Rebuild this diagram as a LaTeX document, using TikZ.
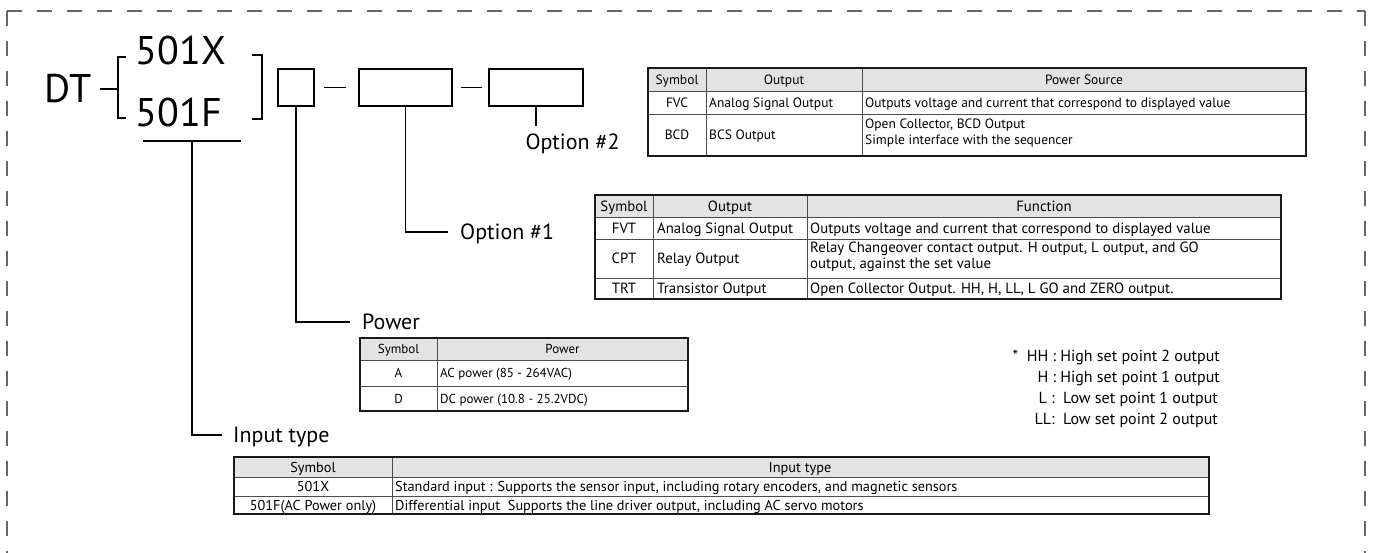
\documentclass[tikz,border=0pt]{standalone}
\usepackage{fontspec}
\setmainfont{PT Sans}
\usetikzlibrary{calc}
\usetikzlibrary{positioning}

\tikzset{
    conn/.style = {line width=1.3pt},
    codebox/.style = {draw, line width=1.3pt, minimum height=37pt, inner sep=0pt},
    bigtxt/.style = {font=\fontsize{40}{40}\selectfont, inner sep=0pt},
    labtxt/.style = {font=\fontsize{22}{22}\selectfont, inner sep=0pt, text height=15.4pt, text depth=0pt, anchor=west},
    cell/.style = {font=\fontsize{#1}{#1}\selectfont, inner sep=0pt, text height={0.7*#1pt}, text depth=0pt},
    cellw/.style = {cell=#1, anchor=west},
    twoline/.style = {inner sep=0pt, align=left, anchor=west},
    notetxt/.style = {font=\fontsize{16}{16}\selectfont, inner sep=0pt, anchor=east},
    head/.style = {fill=black!11},
    grid/.style = {line width=0.9pt, black!70},
    tabframe/.style = {line width=1.1pt, black!90},
    frame/.style = {line width=1.5pt, black!60, dash pattern=on 15pt off 15pt}
}

\begin{document}
\begin{tikzpicture}[x=1pt, y=-1pt]
    \useasboundingbox (0,0) rectangle (1381,553);
    % dashed frame round everything
    \draw[frame] (7,11) -- (1365,11);
    \draw[frame] (7,11) -- (7,580);
    \draw[frame] (1365,11) -- (1365,580);

    % model code
    \node[bigtxt] (dt) at (68,89) {DT};
    \node[bigtxt] (x501) at (181,51) {501X};
    \node[bigtxt] (f501) at (179,113) {501F};
    \coordinate (bl1) at (118,57);
    \coordinate (bl2) at (118,118);
    \coordinate (br1) at (262,55);
    \coordinate (br2) at (262,119);
    \draw[conn] ([xshift=9]dt.east) -- (dt.east -| bl1);
    \draw[conn] ([xshift=8]bl1) -- (bl1) -- (bl2) -- ([xshift=8]bl2);
    \draw[conn] ([xshift=-10]br1) -- (br1) -- (br2) -- ([xshift=-10]br2);
    \node[codebox, minimum width=36pt] (pw) at (296,87.5) {};
    \node[codebox, minimum width=93pt] (op1) at (405.5,87.5) {};
    \node[codebox, minimum width=94pt] (op2) at (536,87.5) {};
    \draw[conn] ([xshift=9]pw.east) -- ([xshift=-12]op1.west);
    \draw[conn] ([xshift=8]op1.east) -- ([xshift=-6]op2.west);
    \coordinate (ul1) at (143,141);
    \coordinate (ul2) at (241,141);
    \draw[conn] (ul1) -- (ul2);

    % labels and leaders
    \node[labtxt, anchor=center] (o2txt) at (572.5,142) {Option \#2};
    \coordinate (o2end) at (536,126);
    \draw[conn] (op2.south) -- (o2end);
    \node[labtxt] (o1txt) at (460,232) {Option \#1};
    \coordinate (o1end) at (448,232);
    \draw[conn] (op1.south) |- (o1end);
    \node[labtxt] (pwtxt) at (362,322) {Power};
    \coordinate (pwend) at (350,322);
    \draw[conn] (pw.south) |- (pwend);
    \node[labtxt] (intxt) at (233,435) {Input type};
    \coordinate (inend) at (222,435);
    \draw[conn] ($(ul1)!.5!(ul2)$) |- (inend);

    % option #2 table
    \fill[head] (648,68) rectangle (1306,91);
    \draw[grid] (648,91) -- (1306,91) (648,114) -- (1306,114)
        (706,68) -- (706,156) (862,68) -- (862,156);
    \draw[tabframe] (648,68) rectangle (1306,156);
    \node[cell=13.5] (t2h1) at (677,79.5) {Symbol};
    \node[cell=13.5] (t2h2) at (784,79.5) {Output};
    \node[cell=13.5] (t2h3) at (1084,79.5) {Power Source};
    \node[cell=13.5] (t2a1) at (677,102.5) {FVC};
    \node[cellw=13.5] (t2a2) at (709,102.5) {Analog Signal Output};
    \node[cellw=13.5] (t2a3) at (865,102.5) {Outputs voltage and current that correspond to displayed value};
    \node[cell=13.5] (t2b1) at (677,135) {BCD};
    \node[cellw=13.5] (t2b2) at (709,135) {BCS Output};
    \node[twoline, font=\fontsize{13.5}{15.5}\selectfont] (t2b3) at (865,133) {Open Collector, BCD Output\\Simple interface with the sequencer};

    % option #1 table
    \fill[head] (595,195) rectangle (1281,217);
    \draw[grid] (595,217) -- (1281,217) (595,239) -- (1281,239) (595,278) -- (1281,278)
        (653,195) -- (653,299) (807,195) -- (807,299);
    \draw[tabframe] (595,195) rectangle (1281,299);
    \node[cell=14.8] (t1h1) at (624,206) {Symbol};
    \node[cell=14.8] (t1h2) at (730,206) {Output};
    \node[cell=14.8] (t1h3) at (1044,206) {Function};
    \node[cell=14.8] (t1a1) at (624,228) {FVT};
    \node[cellw=14.8] (t1a2) at (657,228) {Analog Signal Output};
    \node[cellw=14.8] (t1a3) at (810,228) {Outputs voltage and current that correspond to displayed value};
    \node[cell=14.8] (t1b1) at (624,258.5) {CPT};
    \node[cellw=14.8] (t1b2) at (657,258.5) {Relay Output};
    \node[twoline, font=\fontsize{14.8}{15.5}\selectfont] (t1b3) at (810,257) {Relay Changeover contact output. H output, L output, and GO\\output, against the set value};
    \node[cell=14.8] (t1c1) at (624,288.5) {TRT};
    \node[cellw=14.8] (t1c2) at (657,288.5) {Transistor Output};
    \node[cellw=14.8] (t1c3) at (810,288.5) {Open Collector Output. HH, H, LL, L GO and ZERO output.};

    % power table
    \fill[head] (360,338) rectangle (688,360);
    \draw[grid] (360,360) -- (688,360) (360,386) -- (688,386) (437,338) -- (437,411);
    \draw[tabframe] (360,338) rectangle (688,411);
    \node[cell=13] (tph1) at (398.5,349) {Symbol};
    \node[cell=13] (tph2) at (562.5,349) {Power};
    \node[cell=13] (tpa1) at (398.5,373) {A};
    \node[cellw=13] (tpa2) at (440,373) {AC power (85 - 264VAC)};
    \node[cell=13] (tpb1) at (398.5,398.5) {D};
    \node[cellw=13] (tpb2) at (440,398.5) {DC power (10.8 - 25.2VDC)};

    % input type table
    \fill[head] (234,457) rectangle (1209,477);
    \draw[grid] (234,477) -- (1209,477) (234,496) -- (1209,496) (392,457) -- (392,514);
    \draw[tabframe] (234,457) rectangle (1209,514);
    \node[cell=14.3] (tih1) at (313,467) {Symbol};
    \node[cell=14.3] (tih2) at (800,467) {Input type};
    \node[cell=14.3] (tia1) at (313,486.5) {501X};
    \node[cellw=14.3] (tia2) at (395,486.5) {Standard input : Supports the sensor input, including rotary encoders, and magnetic sensors};
    \node[cell=14.3] (tib1) at (313,505) {501F(AC Power only)};
    \node[cellw=14.3] (tib2) at (395,505) {Differential input\ \ Supports the line driver output, including AC servo motors};

    % notes
    \node[notetxt] (nhh) at (1220,357) {*\ \ HH : High set point 2 output};
    \node[notetxt] (nh) at (1220,378) {H : High set point 1 output};
    \node[notetxt] (nl) at (1218,399) {L :\ \ Low set point 1 output};
    \node[notetxt] (nll) at (1218,420) {LL:\ \ Low set point 2 output};
\end{tikzpicture}
\end{document}
